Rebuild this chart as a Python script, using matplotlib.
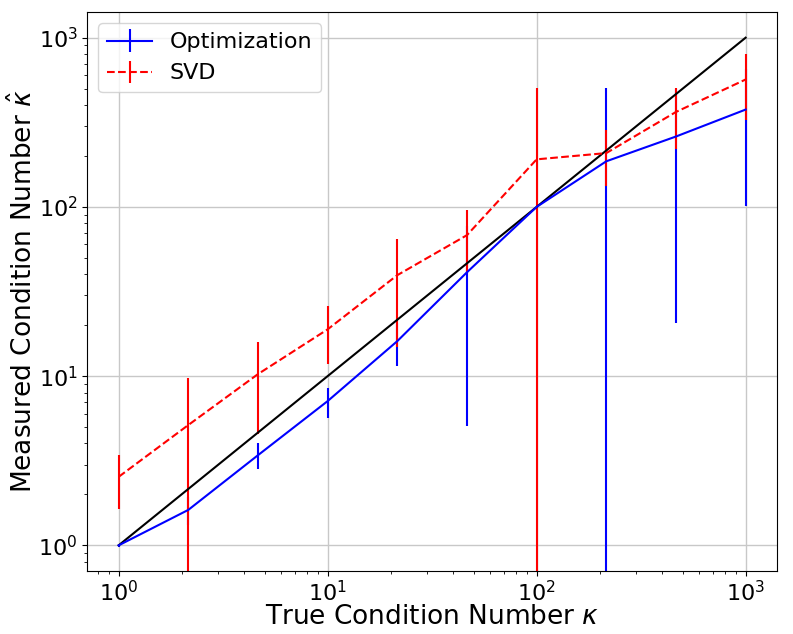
import numpy as np
import matplotlib
matplotlib.use("Agg")
import matplotlib.pyplot as plt

kappa = [1.0, 2.154, 4.642, 10.0, 21.54, 46.42, 100.0, 215.4, 464.2, 1000.0]

opt_mean = [1.0, 1.62, 3.41, 7.12, 16.1, 41.1, 100.0, 186.0, 260.6, 376.0]
opt_err = [0.02, 0.3, 0.59, 1.43, 4.6, 36.0, 0.0, 319.0, 240.0, 275.0]

svd_mean = [2.54, 5.14, 10.28, 18.9, 39.5, 68.1, 191.0, 208.0, 364.0, 566.0]
svd_err = [0.9, 4.55, 5.7, 7.1, 24.7, 27.6, 316.0, 75.0, 143.0, 239.0]

fig = plt.figure(figsize=(7.93, 6.34), dpi=100)
ax = fig.add_axes([0.1101, 0.0998, 0.8697, 0.8808])

ax.errorbar(kappa, opt_mean, yerr=opt_err, color='blue', linestyle='-',
            linewidth=1.5, elinewidth=1.5, capsize=0, label='Optimization')
ax.errorbar(kappa, svd_mean, yerr=svd_err, color='red', linestyle='--',
            linewidth=1.5, elinewidth=1.5, capsize=0, label='SVD')
ax.plot(kappa, kappa, color='black', linewidth=1.5)

ax.set_xscale('log')
ax.set_yscale('log')
ax.set_xlim(10**-0.15, 10**3.15)
ax.set_ylim(10**-0.15, 10**3.15)
ax.grid(True, which='major', color='#c8c8c8', linewidth=1.0)
ax.set_axisbelow(True)

ax.tick_params(axis='both', which='major', labelsize=16)
ax.set_xlabel(r'True Condition Number $\kappa$', fontsize=19, labelpad=-1.5)
ax.set_ylabel(r'Measured Condition Number $\hat{\kappa}$', fontsize=19, labelpad=0.5)
ax.legend(loc='upper left', fontsize=16)

fig.savefig('out.png', dpi=100)
